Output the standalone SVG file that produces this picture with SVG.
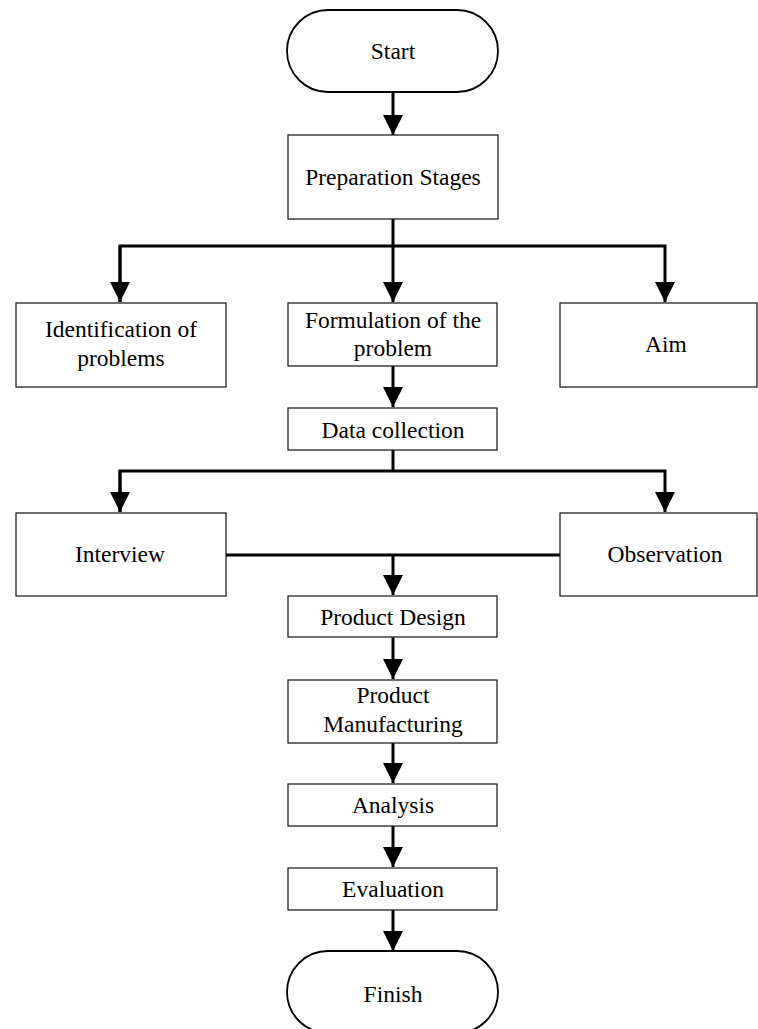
<svg xmlns="http://www.w3.org/2000/svg" width="758" height="1029" viewBox="0 0 758 1029">
<style>
.box{fill:#fff;stroke:#222;stroke-width:1.3}
.term{fill:#fff;stroke:#000;stroke-width:1.8}
text{font-family:"Liberation Serif","Times New Roman",serif;font-size:23.5px;fill:#000;text-anchor:middle}
.c{fill:none;stroke:#000;stroke-width:3}
</style>
<defs>
<marker id="ah" markerUnits="userSpaceOnUse" markerWidth="20" markerHeight="20" refX="20" refY="10" orient="auto" viewBox="0 0 20 20">
<path d="M0,0 L20,10 L0,20 Z" fill="#000"/>
</marker>
</defs>
<rect width="758" height="1029" fill="#fff"/>
<g id="connectors">
<path class="c" d="M393,92 V135" marker-end="url(#ah)"/>
<path class="c" d="M393,219 V246"/>
<path class="c" d="M120,302 V246 H665 V302" marker-end="url(#ah)"/>
<path class="c" d="M120,246 V302" marker-end="url(#ah)"/>
<path class="c" d="M393,246 V302" marker-end="url(#ah)"/>
<path class="c" d="M393,366 V407" marker-end="url(#ah)"/>
<path class="c" d="M393,450 V471"/>
<path class="c" d="M120,512 V471 H665 V512" marker-end="url(#ah)"/>
<path class="c" d="M120,471 V512" marker-end="url(#ah)"/>
<path class="c" d="M226,555 H560"/>
<path class="c" d="M393,555 V595" marker-end="url(#ah)"/>
<path class="c" d="M393,637 V679" marker-end="url(#ah)"/>
<path class="c" d="M393,743 V783" marker-end="url(#ah)"/>
<path class="c" d="M393,826 V867" marker-end="url(#ah)"/>
<path class="c" d="M393,910 V951" marker-end="url(#ah)"/>
</g>
<g id="start"><rect class="term" x="287" y="10" width="211" height="82" rx="41" ry="41"/><text x="393" y="59">Start</text></g>
<g id="prep"><rect class="box" x="288" y="135" width="210" height="84"/><text x="393" y="185">Preparation Stages</text></g>
<g id="ident"><rect class="box" x="16" y="303" width="210" height="84"/><text x="121" y="337">Identification of</text><text x="121" y="366">problems</text></g>
<g id="formul"><rect class="box" x="288" y="303" width="209" height="63"/><text x="393" y="328">Formulation of the</text><text x="393" y="356">problem</text></g>
<g id="aim"><rect class="box" x="560" y="303" width="197" height="84"/><text x="666" y="352">Aim</text></g>
<g id="data"><rect class="box" x="288" y="408" width="209" height="42"/><text x="393" y="438">Data collection</text></g>
<g id="interview"><rect class="box" x="16" y="513" width="210" height="83"/><text x="120" y="562">Interview</text></g>
<g id="observation"><rect class="box" x="560" y="513" width="197" height="83"/><text x="665" y="562">Observation</text></g>
<g id="design"><rect class="box" x="288" y="596" width="209" height="41"/><text x="393" y="625">Product Design</text></g>
<g id="manuf"><rect class="box" x="288" y="680" width="209" height="63"/><text x="393" y="703">Product</text><text x="393" y="732">Manufacturing</text></g>
<g id="analysis"><rect class="box" x="288" y="784" width="209" height="42"/><text x="393" y="813">Analysis</text></g>
<g id="evaluation"><rect class="box" x="288" y="868" width="209" height="42"/><text x="393" y="897">Evaluation</text></g>
<g id="finish"><rect class="term" x="287" y="951" width="211" height="82" rx="41" ry="41"/><text x="393" y="1002">Finish</text></g>
</svg>
